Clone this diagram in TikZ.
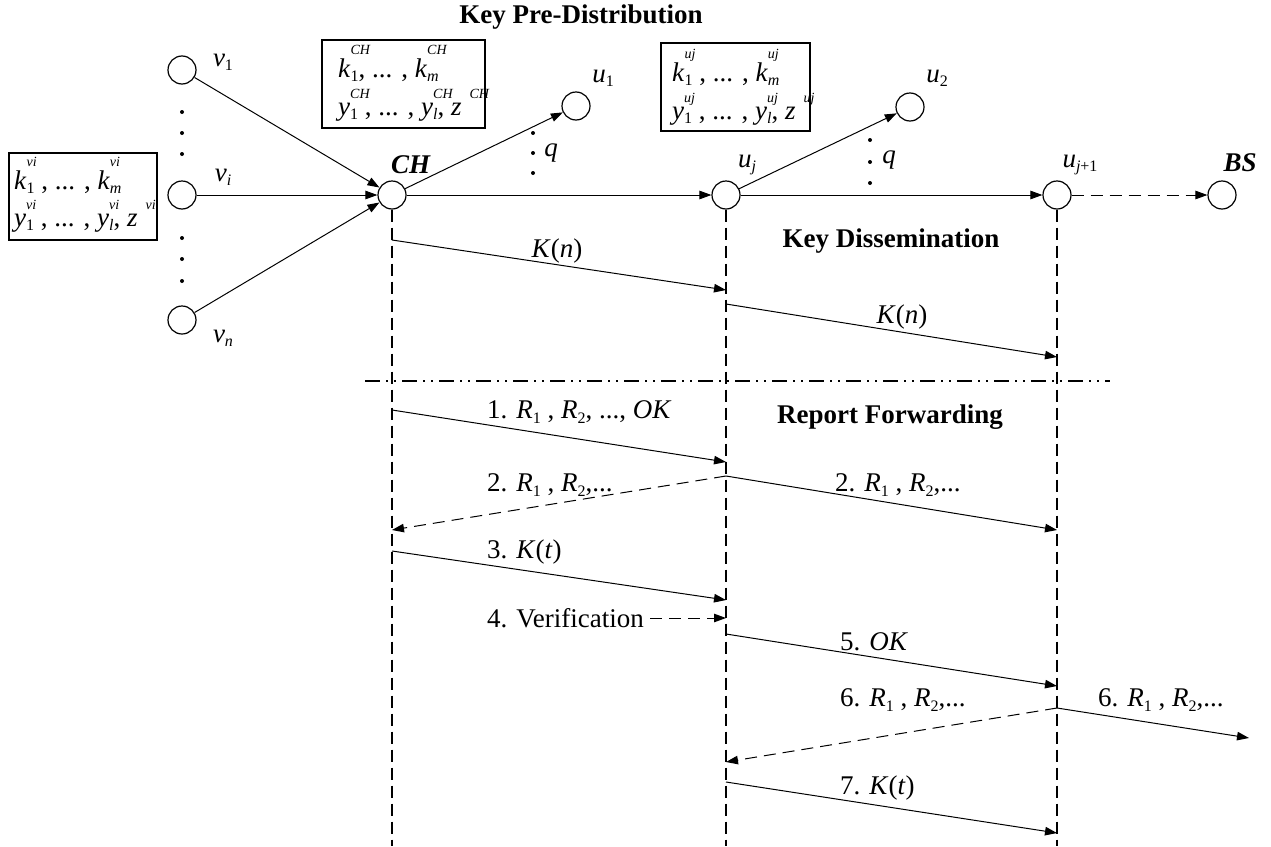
\documentclass[tikz,border=0pt]{standalone}
\usepackage{fontspec}
\setmainfont{Liberation Serif}
\usetikzlibrary{arrows.meta,calc}

% index helpers: lowered small index, raised small tag, and a key symbol with both
\newcommand\lo[1]{\raisebox{-0.16em}{\fontsize{16}{16}\selectfont #1}}
\newcommand\hi[2][0.6em]{\raisebox{#1}{\fontsize{14}{14}\selectfont\textit{#2}}}
\newcommand\kx[4][0.6em]{\textit{#2}\rlap{\hi[#1]{#4}}\lo{#3}}

\tikzset{
  nd/.style={circle,draw,line width=1.2pt,minimum size=28pt,inner sep=0pt},
  conn/.style={line width=1pt,-{Triangle[length=12pt,width=8.5pt]}},
  msg/.style={line width=1pt,-{Triangle[length=12pt,width=8.5pt]}},
  dmsg/.style={msg,dash pattern=on 12pt off 7pt},
  life/.style={line width=1.2pt,dash pattern=on 12pt off 6pt},
  sep/.style={line width=1.2pt,dash pattern=on 15pt off 6pt on 2pt off 6pt on 2pt off 6pt},
  keybox/.style={draw,line width=1.2pt,inner sep=0pt},
  lbl/.style={inner sep=0pt},
  tl/.style={inner sep=0pt,anchor=base west},
  ml/.style={inner sep=0pt,anchor=west},
  dotm/.style={circle,fill,inner sep=0pt,minimum size=4pt}
}

\begin{document}
\begin{tikzpicture}[x=1pt,y=-1pt,font=\fontsize{27}{32}\selectfont]
\useasboundingbox (0,0) rectangle (1271,846);

% section titles
\node[lbl] (t1) at (581,17) {\textbf{Key Pre-Distribution}};
\node[lbl] (t2) at (891,241) {\textbf{Key Dissemination}};
\node[lbl] (t3) at (890,417) {\textbf{Report Forwarding}};

% sensor nodes
\node[nd] (v1) at (182,70) {};
\node[nd] (vi) at (182,195) {};
\node[nd] (vn) at (182,320) {};
\node[nd] (CH) at (392,195) {};
\node[nd] (u1) at (576,106) {};
\node[nd] (uj) at (726,195) {};
\node[nd] (u2) at (910,107) {};
\node[nd] (uj1) at (1057,195) {};
\node[nd] (BS) at (1222,195) {};

% node names
\node[lbl] (lv1) at (223,62) {\textit{v}\lo{1}};
\node[lbl] (lvi) at (223,177) {\textit{v}\lo{\textit{i}}};
\node[lbl] (lvn) at (223,338) {\textit{v}\lo{\textit{n}}};
\node[lbl] (lu1) at (603,78) {\textit{u}\lo{1}};
\node[lbl] (lu2) at (937,78) {\textit{u}\lo{2}};
\node[lbl] (luj) at (747,165) {\textit{u}\lo{\textit{j}}};
\node[lbl] (luj1) at (1080,165) {\textit{u}\lo{\textit{j}+1}};
\node[lbl] (lCH) at (411,165) {\textbf{\textit{CH}}};
\node[lbl] (lBS) at (1240,163) {\textbf{\textit{BS}}};
\node[lbl] (q1) at (551,153) {\textit{q}};
\node[lbl] (q2) at (889,160) {\textit{q}};

% omitted members
\foreach \yy [count=\k] in {112,133,154,238,259,281} \node[dotm] (dv\k) at (182,\yy) {};
\foreach \yy [count=\k] in {133,153,173} \node[dotm] (da\k) at (533,\yy) {};
\foreach \yy [count=\k] in {140,162,183} \node[dotm] (db\k) at (870,\yy) {};

% key material boxes
\node[keybox,minimum width=148pt,minimum height=87pt] (bvi) at (83,196.5) {};
\node[tl] (bvi1) at (14,189) {\kx[0.85em]{k}{1}{vi} , ... , \kx[0.85em]{k}{\textit{m}}{vi}};
\node[tl] (bvi2) at (14,226) {\kx{y}{1}{vi} , ... , \kx{y}{\textit{l}}{vi}, \textit{z}\hspace{8pt}\hi{vi}};

\node[keybox,minimum width=163pt,minimum height=88pt] (bch) at (403.5,84) {};
\node[tl] (bch1) at (338,77) {\kx[0.85em]{k}{1}{CH}, ... , \kx[0.85em]{k}{\textit{m}}{CH}};
\node[tl] (bch2) at (338,115) {\kx{y}{1}{CH} , ... , \kx{y}{\textit{l}}{CH}, \textit{z}\hspace{8pt}\hi{CH}};

\node[keybox,minimum width=149pt,minimum height=88pt] (buj) at (735.5,87) {};
\node[tl] (buj1) at (672,81) {\kx[0.85em]{k}{1}{uj} , ... , \kx[0.85em]{k}{\textit{m}}{uj}};
\node[tl] (buj2) at (672,119) {\kx{y}{1}{uj} , ... , \kx{y}{\textit{l}}{uj}, \textit{z}\hspace{8pt}\hi{uj}};

% cluster topology
\draw[conn] (v1) -- (CH);
\draw[conn] (vi) -- (CH);
\draw[conn] (vn) -- (CH);
\draw[conn] (CH) -- (u1);
\draw[conn] (CH) -- (uj);
\draw[conn] (uj) -- (u2);
\draw[conn] (uj) -- (uj1);
\draw[conn,dash pattern=on 12pt off 7pt] (uj1) -- (BS);

% lifelines
\coordinate (eCH) at (CH |- 0,846);
\coordinate (euj) at (uj |- 0,846);
\coordinate (euj1) at (uj1 |- 0,846);
\draw[life] (CH.south) -- (eCH);
\draw[life] (uj.south) -- (euj);
\draw[life] (uj1.south) -- (euj1);

% phase separator
\coordinate (s1) at (365,381);
\coordinate (s2) at (1110,381);
\draw[sep] (s1) -- (s2);

% key dissemination
\coordinate (k1a) at (CH |- 0,240);  \coordinate (k1b) at (uj |- 0,290);
\coordinate (k2a) at (uj |- 0,304);  \coordinate (k2b) at (uj1 |- 0,357);
\draw[msg] (k1a) -- (k1b);
\draw[msg] (k2a) -- (k2b);
\node[lbl] (lk1) at (557,251) {\textit{K}(\textit{n})};
\node[lbl] (lk2) at (902,317) {\textit{K}(\textit{n})};

% report forwarding
\coordinate (m1a) at (CH |- 0,410);  \coordinate (m1b) at (uj |- 0,462);
\coordinate (m2a) at (uj |- 0,476);  \coordinate (m2b) at (CH |- 0,530);
\coordinate (m2c) at (uj1 |- 0,530);
\coordinate (m3a) at (CH |- 0,551);  \coordinate (m3b) at (uj |- 0,600);
\coordinate (m5a) at (uj |- 0,634);  \coordinate (m5b) at (uj1 |- 0,686);
\coordinate (m6a) at (uj1 |- 0,708); \coordinate (m6b) at (uj |- 0,762);
\coordinate (m6c) at (1249,738);
\coordinate (m7a) at (uj |- 0,782);  \coordinate (m7b) at (uj1 |- 0,833);

\draw[msg] (m1a) -- (m1b);
\draw[dmsg] (m2a) -- (m2b);
\draw[msg] (m2a) -- (m2c);
\draw[msg] (m3a) -- (m3b);
\draw[msg] (m5a) -- (m5b);
\draw[dmsg] (m6a) -- (m6b);
\draw[msg] (m6a) -- (m6c);
\draw[msg] (m7a) -- (m7b);

\node[ml] (l1) at (487,412) {1. \textit{R}\lo{1} , \textit{R}\lo{2}, ..., \textit{OK}};
\node[ml] (l2) at (487,485) {2. \textit{R}\lo{1} , \textit{R}\lo{2},...};
\node[ml] (l2r) at (835,485) {2. \textit{R}\lo{1} , \textit{R}\lo{2},...};
\node[ml] (l3) at (487,552) {3. \textit{K}(\textit{t})};
\node[ml] (l4) at (487,618) {4. Verification};
\coordinate (m4b) at (uj |- l4);
\draw[dmsg,shorten <=6pt] (l4) -- (m4b);
\node[ml] (l5) at (840,642) {5. \textit{OK}};
\node[ml] (l6) at (840,700) {6. \textit{R}\lo{1} , \textit{R}\lo{2},...};
\node[ml] (l6r) at (1098,700) {6. \textit{R}\lo{1} , \textit{R}\lo{2},...};
\node[ml] (l7) at (840,788) {7. \textit{K}(\textit{t})};
\end{tikzpicture}
\end{document}
